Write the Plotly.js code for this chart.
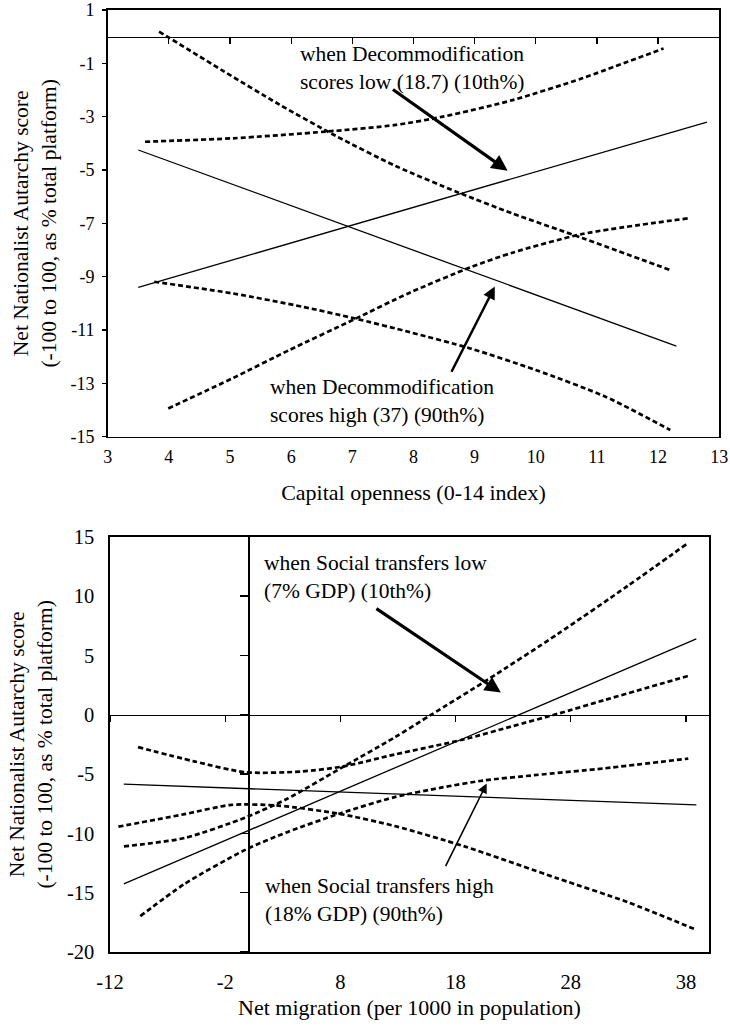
<!DOCTYPE html>
<html>
<head>
<meta charset="utf-8">
<script src="https://cdn.plot.ly/plotly-3.0.1.min.js"></script>
<style>html,body{margin:0;padding:0;background:#fff;}#chart{width:730px;height:1034px;}</style>
</head>
<body>
<div id="chart"></div>
<script>
// ---------- Top panel: Capital openness ----------
const topLineX = [3.5, 12.3];
const topLineDownY = [-4.25, -11.6];          // solid, low decommodification
const topLineUpX = [3.5, 12.8];
const topLineUpY = [-9.4, -3.2];              // solid, high decommodification
const topUpperDownX = [3.84, 4.9, 5.81, 6.73, 7.71, 8.74, 9.62, 10.76, 12.2];
const topUpperDownY = [0.19, -1.3, -2.55, -3.72, -4.85, -5.85, -6.63, -7.55, -8.75];
const topLowerDownX = [3.76, 5.05, 6.19, 7.03, 7.94, 8.93, 10.0, 11.14, 12.2];
const topLowerDownY = [-9.19, -9.63, -10.13, -10.56, -11.08, -11.69, -12.5, -13.5, -14.75];
const topUpperUpX = [3.61, 5.05, 6.57, 7.71, 8.48, 9.62, 10.76, 12.09];
const topUpperUpY = [-3.94, -3.81, -3.56, -3.31, -3.0, -2.38, -1.56, -0.44];
const topLowerUpX = [3.99, 5.05, 5.97, 7.03, 7.94, 8.93, 9.62, 10.76, 12.5];
const topLowerUpY = [-13.94, -12.8, -11.75, -10.6, -9.6, -8.65, -8.1, -7.4, -6.81];

// ---------- Bottom panel: Net migration ----------
const botLineX = [-10.8, 38.9];
const botSteepY = [-14.26, 6.39];             // solid, low social transfers
const botFlatY = [-5.86, -7.6];               // solid, high social transfers
const botUpperSteepX = [-10.79, -5.52, -0.26, 3.38, 8.04, 12.7, 15.94, 20.79, 26.87, 32.94, 38.2];
const botUpperSteepY = [-11.1, -10.39, -8.67, -7.09, -4.51, -1.92, 0.03, 2.95, 6.8, 10.85, 14.48];
const botLowerSteepX = [-9.37, -5.52, -0.26, 3.38, 8.04, 12.7, 16.74, 20.39, 24.84, 30.92, 38.2];
const botLowerSteepY = [-16.98, -14.26, -11.39, -9.9, -8.3, -6.95, -6.15, -5.55, -5.1, -4.52, -3.7];
const botUpperFlatX = [-9.57, -4.71, -0.26, 4.6, 8.24, 12.69, 18.77, 22.82, 26.87, 30.92, 38.32];
const botUpperFlatY = [-2.73, -3.93, -4.85, -4.79, -4.36, -3.36, -2.07, -1.0, 0.08, 1.23, 3.3];
const botLowerFlatX = [-11.27, -5.52, -1.47, 2.58, 8.04, 12.7, 18.77, 26.87, 32.94, 38.89];
const botLowerFlatY = [-9.44, -8.38, -7.6, -7.66, -8.38, -9.38, -11.1, -13.8, -15.8, -18.13];

// tick values / labels / texts
const topXTicks = [3, 4, 5, 6, 7, 8, 9, 10, 11, 12, 13];
const topXText = ['3', '4', '5', '6', '7', '8', '9', '10', '11', '12', '13'];
const topYTicks = [1, -1, -3, -5, -7, -9, -11, -13, -15];
const topYText = ['1', '-1', '-3', '-5', '-7', '-9', '-11', '-13', '-15'];
const botXTicks = [-12, -2, 8, 18, 28, 38];
const botXText = ['-12', '-2', '8', '18', '28', '38'];
const botYTicks = [15, 10, 5, 0, -5, -10, -15, -20];
const botYText = ['15', '10', '5', '0', '-5', '-10', '-15', '-20'];
const yTitle = 'Net Nationalist Autarchy score<br>(-100 to 100, as % total platform)';
const topXTitle = 'Capital openness (0-14 index)';
const botXTitle = 'Net migration (per 1000 in population)';
const topLowLabel = 'when Decommodification<br>scores low (18.7) (10th%)';
const topHighLabel = 'when Decommodification<br>scores high (37) (90th%)';
const botLowLabel = 'when Social transfers low<br>(7% GDP) (10th%)';
const botHighLabel = 'when Social transfers high<br>(18% GDP) (90th%)';

// ---------- layout geometry ----------
const W = 730, H = 1034;
const fx = p => p / W, fy = p => 1 - p / H;
const topXDom = [fx(107.7), fx(719.2)], topYDom = [fy(436.7), fy(10)];
const botXDom = [fx(110), fx(709)], botYDom = [fy(952), fy(536.7)];
const topXR = [3, 13], topYR = [-15, 1], botXR = [-12, 40], botYR = [-20, 15];
const lerp = (dom, r, v) => dom[0] + (v - r[0]) / (r[1] - r[0]) * (dom[1] - dom[0]);

const SERIF = 'Liberation Serif, Times New Roman, serif';
const solid = {color: '#000', width: 1.3};
const dashed = {color: '#000', width: 2.7, dash: '5px,3px', shape: 'spline', smoothing: 0.7};

const traces = [
  {x: topLineX, y: topLineDownY, xaxis: 'x', yaxis: 'y', mode: 'lines', line: solid},
  {x: topLineUpX, y: topLineUpY, xaxis: 'x', yaxis: 'y', mode: 'lines', line: solid},
  {x: topUpperDownX, y: topUpperDownY, xaxis: 'x2', yaxis: 'y', mode: 'lines', line: dashed},
  {x: topLowerDownX, y: topLowerDownY, xaxis: 'x2', yaxis: 'y', mode: 'lines', line: dashed},
  {x: topUpperUpX, y: topUpperUpY, xaxis: 'x2', yaxis: 'y', mode: 'lines', line: dashed},
  {x: topLowerUpX, y: topLowerUpY, xaxis: 'x2', yaxis: 'y', mode: 'lines', line: dashed},
  {x: botLineX, y: botSteepY, xaxis: 'x3', yaxis: 'y3', mode: 'lines', line: solid},
  {x: botLineX, y: botFlatY, xaxis: 'x3', yaxis: 'y3', mode: 'lines', line: solid},
  {x: botUpperSteepX, y: botUpperSteepY, xaxis: 'x4', yaxis: 'y4', mode: 'lines', line: dashed},
  {x: botLowerSteepX, y: botLowerSteepY, xaxis: 'x4', yaxis: 'y4', mode: 'lines', line: dashed},
  {x: botUpperFlatX, y: botUpperFlatY, xaxis: 'x4', yaxis: 'y4', mode: 'lines', line: dashed},
  {x: botLowerFlatX, y: botLowerFlatY, xaxis: 'x4', yaxis: 'y4', mode: 'lines', line: dashed}
];

const axBase = {showgrid: false, zeroline: false, linecolor: '#000', color: '#000', fixedrange: true, autorange: false};
const frame = {showline: true, mirror: true, linewidth: 1.6};

const layout = {
  width: W, height: H,
  margin: {l: 0, r: 0, t: 0, b: 0},
  paper_bgcolor: '#fff', plot_bgcolor: 'rgba(0,0,0,0)',
  showlegend: false,
  font: {family: SERIF, color: '#000'},
  xaxis: Object.assign({}, axBase, frame, {
    domain: topXDom, range: topXR, anchor: 'y', tickmode: 'array', tickvals: topXTicks, ticktext: topXText,
    ticks: '', tickfont: {size: 18, family: SERIF}, ticklabelstandoff: 3,
    title: {text: topXTitle, font: {size: 22, family: SERIF}, standoff: 18}
  }),
  yaxis: Object.assign({}, axBase, frame, {
    domain: topYDom, range: topYR, anchor: 'x', tickmode: 'array', tickvals: topYTicks, ticktext: topYText,
    ticks: 'outside', ticklen: 4, tickwidth: 1.3, tickfont: {size: 18, family: SERIF},
    ticklabelstandoff: 4,
    title: {text: yTitle, font: {size: 21.5, family: SERIF}, standoff: 8}
  }),
  xaxis2: Object.assign({}, axBase, {
    overlaying: 'x', anchor: 'free', position: lerp(topYDom, topYR, 0), domain: topXDom,
    range: topXR, tickmode: 'array', tickvals: topXTicks, ticks: 'outside', ticklen: 6,
    tickwidth: 1.2, showticklabels: false, showline: true, linewidth: 1.6, side: 'bottom'
  }),
  xaxis3: Object.assign({}, axBase, frame, {
    domain: botXDom, range: botXR, anchor: 'y3', tickmode: 'array', tickvals: botXTicks, ticktext: botXText,
    ticks: '', tickfont: {size: 20.5, family: SERIF}, ticklabelstandoff: 11,
    title: {text: botXTitle, font: {size: 22, family: SERIF}, standoff: 7}
  }),
  yaxis3: Object.assign({}, axBase, frame, {
    domain: botYDom, range: botYR, anchor: 'x3', tickmode: 'array', tickvals: botYTicks, ticktext: botYText,
    ticks: '', tickfont: {size: 20.5, family: SERIF}, ticklabelstandoff: 10,
    title: {text: yTitle, font: {size: 21.5, family: SERIF}, standoff: 8}
  }),
  xaxis4: Object.assign({}, axBase, {
    overlaying: 'x3', anchor: 'free', position: lerp(botYDom, botYR, 0), domain: botXDom,
    range: botXR, tickmode: 'array', tickvals: botXTicks, ticks: 'outside', ticklen: 6,
    tickwidth: 1.2, showticklabels: false, showline: true, linewidth: 1.6, side: 'bottom'
  }),
  yaxis4: Object.assign({}, axBase, {
    overlaying: 'y3', anchor: 'free', position: lerp(botXDom, botXR, 0), domain: botYDom,
    range: botYR, tickmode: 'array', tickvals: botYTicks, ticks: 'outside', ticklen: 8,
    tickwidth: 1.2, showticklabels: false, showline: true, linewidth: 1.3, side: 'left'
  }),
  annotations: [
    {xref: 'x', yref: 'y', x: 6.11, y: -1.16, text: topLowLabel, showarrow: false,
     xanchor: 'left', yanchor: 'middle', align: 'left', font: {size: 21.5, family: SERIF}},
    {xref: 'x', yref: 'y', x: 5.62, y: -13.65, text: topHighLabel, showarrow: false,
     xanchor: 'left', yanchor: 'middle', align: 'left', font: {size: 21.5, family: SERIF}},
    {xref: 'x', yref: 'y', x: 9.54, y: -5.03, axref: 'x', ayref: 'y', ax: 7.64, ay: -1.94,
     text: '', showarrow: true, arrowhead: 2, arrowsize: 1, arrowwidth: 3.2, arrowcolor: '#000'},
    {xref: 'x', yref: 'y', x: 9.33, y: -9.37, axref: 'x', ayref: 'y', ax: 8.61, ay: -12.62,
     text: '', showarrow: true, arrowhead: 2, arrowsize: 1, arrowwidth: 2.5, arrowcolor: '#000'},
    {xref: 'x3', yref: 'y3', x: 1.16, y: 11.6, text: botLowLabel, showarrow: false,
     xanchor: 'left', yanchor: 'middle', align: 'left', font: {size: 21.5, family: SERIF}},
    {xref: 'x3', yref: 'y3', x: 1.28, y: -15.6, text: botHighLabel, showarrow: false,
     xanchor: 'left', yanchor: 'middle', align: 'left', font: {size: 21.5, family: SERIF}},
    {xref: 'x3', yref: 'y3', x: 21.93, y: 1.86, axref: 'x3', ayref: 'y3', ax: 11.0, ay: 9.03,
     text: '', showarrow: true, arrowhead: 2, arrowsize: 1, arrowwidth: 3.2, arrowcolor: '#000'},
    {xref: 'x3', yref: 'y3', x: 20.7, y: -5.8, axref: 'x3', ayref: 'y3', ax: 17.07, ay: -12.88,
     text: '', showarrow: true, arrowhead: 2, arrowsize: 1.2, arrowwidth: 1.6, arrowcolor: '#000'}
  ]
};

Plotly.newPlot('chart', traces, layout, {staticPlot: true, displayModeBar: false});
</script>
</body>
</html>
